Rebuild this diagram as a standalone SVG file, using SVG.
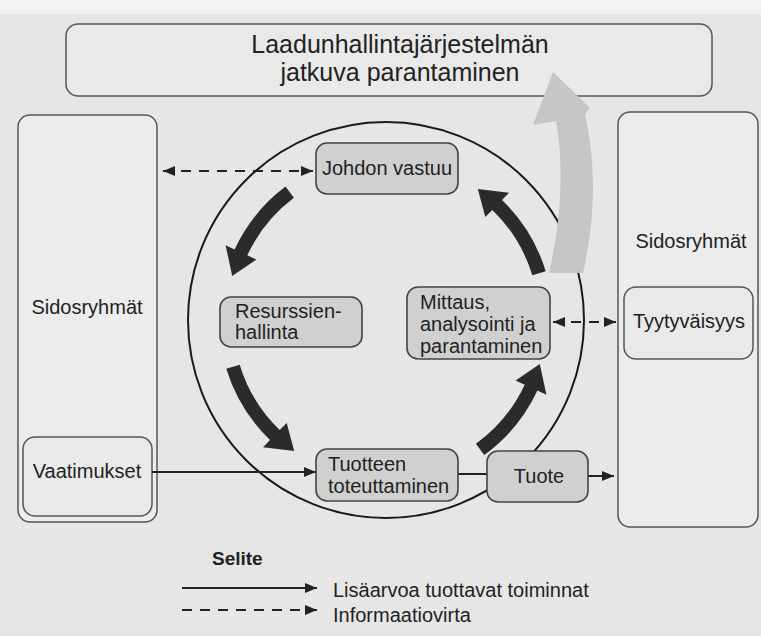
<svg xmlns="http://www.w3.org/2000/svg" width="761" height="636" viewBox="0 0 761 636">
<defs>
<style>
text{font-family:"Liberation Sans",Arial,sans-serif;fill:#222;}
.t{font-size:20px;}
.c{text-anchor:middle;}
.panel{fill:#ececec;stroke:#555;stroke-width:1.5;}
.node{fill:#d0d0d0;stroke:#444;stroke-width:1.6;}
.inner{fill:#e9e9e9;stroke:#555;stroke-width:1.5;}
.big{fill:#2b2b2b;}
.flow{stroke:#222;stroke-width:2;fill:none;}
.dash{stroke:#222;stroke-width:2;fill:none;stroke-dasharray:10 8;}
</style>
<marker id="ah" viewBox="0 0 12 10" refX="12" refY="5" markerWidth="12" markerHeight="10" markerUnits="userSpaceOnUse" orient="auto-start-reverse">
<path d="M0,0 L12,5 L0,10 Z" fill="#222"/>
</marker>
</defs>
<rect width="761" height="636" fill="#e6e6e6"/>
<rect width="761" height="14" fill="#f2f2f2"/>

<g id="top">
<rect x="66" y="24" width="646" height="72" rx="12" class="inner" fill="#e8e8e8"/>
<text x="400" y="53" class="c" style="font-size:25px">Laadunhallintajärjestelmän</text>
<text x="400" y="81" class="c" style="font-size:25px">jatkuva parantaminen</text>
</g>

<g id="left-panel">
<rect x="18" y="115" width="139" height="407" rx="12" class="panel"/>
<text x="87" y="314" class="t c">Sidosryhmät</text>
<g id="vaatimukset">
<rect x="23" y="437" width="129" height="79" rx="12" class="inner"/>
<text x="87" y="478" class="t c">Vaatimukset</text>
</g>
</g>

<g id="right-panel">
<rect x="618" y="112" width="140" height="415" rx="12" class="panel"/>
<text x="691" y="248" class="t c">Sidosryhmät</text>
<g id="tyytyvaisyys">
<rect x="624" y="287" width="129" height="72" rx="12" class="inner"/>
<text x="689" y="328" class="t c">Tyytyväisyys</text>
</g>
</g>

<circle id="cycle" cx="386" cy="320" r="198" fill="none" stroke="#1a1a1a" stroke-width="2"/>

<g id="improvement-arrow">
<path d="M549,273 Q568,190 556,121 L533,125 L553,72 L590,108 L585,114 Q602,190 583,273 Z" fill="#c6c6c6"/>
</g>

<g id="connectors">
<path class="big" d="M285.5,186.6 A167,167 0 0 0 234.6,249.4 L225.6,245.2 L232.2,275.9 L256.4,259.6 L247.3,255.3 A153,153 0 0 1 293.9,197.8 Z"/>
<path class="big" d="M226.3,368.8 A167,167 0 0 0 270.0,440.1 L263.0,447.3 L294.2,451.1 L286.7,422.9 L279.7,430.1 A153,153 0 0 1 239.7,364.7 Z"/>
<path class="big" d="M484.2,455.1 A167,167 0 0 0 537.4,390.6 L546.4,394.8 L539.8,364.1 L515.6,380.4 L524.7,384.7 A153,153 0 0 1 475.9,443.8 Z"/>
<path class="big" d="M545.7,271.2 A167,167 0 0 0 502.0,199.9 L509.0,192.7 L477.8,188.9 L485.3,217.1 L492.3,209.9 A153,153 0 0 1 532.3,275.3 Z"/>
<line x1="163" y1="171" x2="313" y2="171" class="dash" marker-start="url(#ah)" marker-end="url(#ah)"/>
<line x1="553" y1="322" x2="616" y2="322" class="dash" marker-start="url(#ah)" marker-end="url(#ah)"/>
<line x1="152" y1="472" x2="316" y2="472" class="flow" marker-end="url(#ah)"/>
<line x1="458" y1="474" x2="487" y2="474" class="flow"/>
<line x1="588" y1="476" x2="614" y2="476" class="flow" marker-end="url(#ah)"/>
</g>

<g id="johdon">
<rect x="316" y="143" width="142" height="51" rx="11" class="node"/>
<text x="387" y="175" class="t c">Johdon vastuu</text>
</g>
<g id="resurssien">
<rect x="220" y="297" width="142" height="50" rx="11" class="node"/>
<text x="235" y="318" class="t">Resurssien-</text>
<text x="235" y="339" class="t">hallinta</text>
</g>
<g id="mittaus">
<rect x="407" y="287" width="143" height="72" rx="11" class="node"/>
<text x="420" y="309" class="t">Mittaus,</text>
<text x="420" y="331" class="t">analysointi ja</text>
<text x="420" y="353" class="t">parantaminen</text>
</g>
<g id="tuotteen">
<rect x="316" y="449" width="142" height="52" rx="11" class="node"/>
<text x="328" y="471" class="t">Tuotteen</text>
<text x="328" y="493" class="t">toteuttaminen</text>
</g>
<g id="tuote">
<rect x="487" y="451" width="101" height="51" rx="11" class="node"/>
<text x="539" y="483" class="t c">Tuote</text>
</g>

<g id="legend">
<text x="212" y="565" style="font-size:19px;font-weight:bold">Selite</text>
<line x1="182" y1="588" x2="317" y2="588" class="flow" marker-end="url(#ah)"/>
<text x="333" y="597" class="t">Lisäarvoa tuottavat toiminnat</text>
<line x1="182" y1="610" x2="317" y2="610" class="dash" marker-end="url(#ah)"/>
<text x="333" y="622" class="t">Informaatiovirta</text>
</g>
</svg>
